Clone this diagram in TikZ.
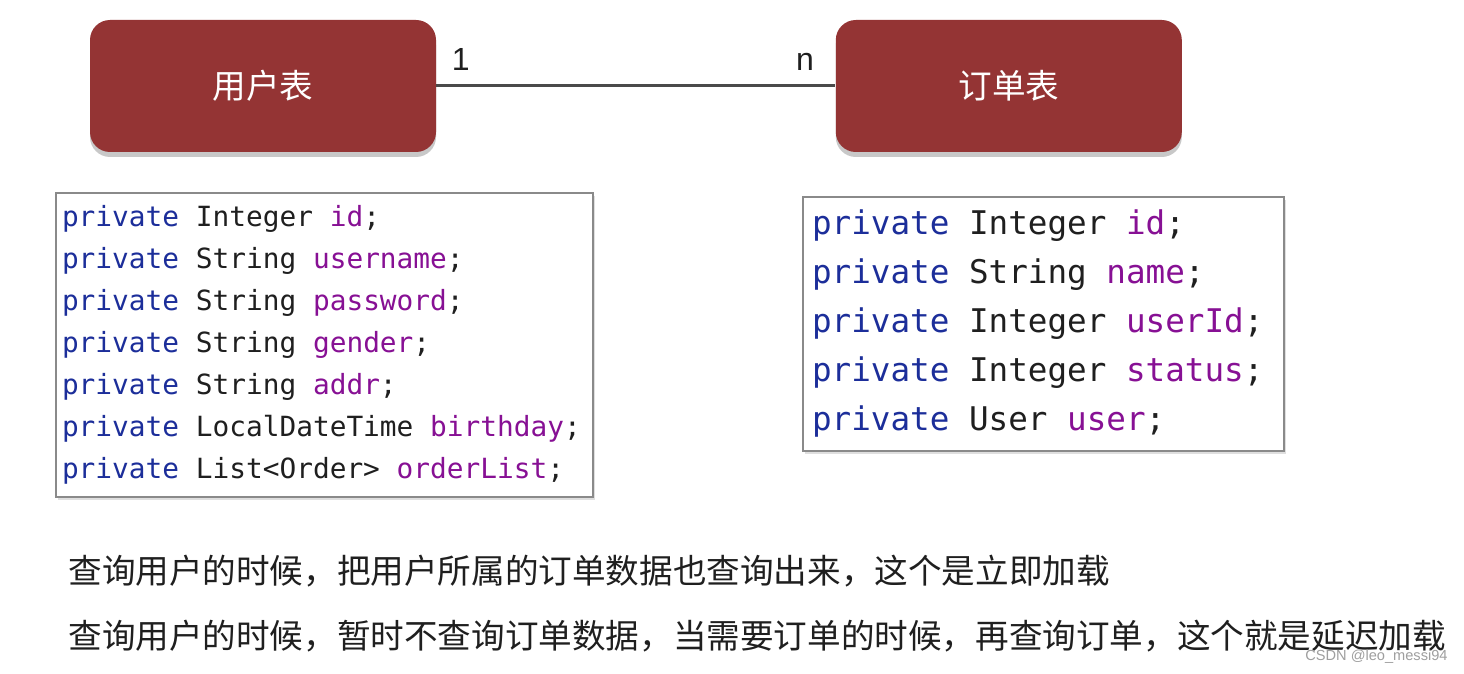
\documentclass[tikz,border=0pt]{standalone}
\usepackage{fontspec}
\setmainfont{Liberation Sans}
\newfontfamily\cjk{Noto Sans CJK SC}
\newfontfamily\codefont{DejaVu Sans Mono}
\usepackage{xcolor}
\usetikzlibrary{positioning,shadows}
\definecolor{ink}{HTML}{1F1F1F}
\definecolor{tblred}{HTML}{943434}
\definecolor{linkgray}{HTML}{4A4A4A}
\definecolor{boxgray}{HTML}{8A8A8A}
\definecolor{kwblue}{HTML}{1C2E9A}
\definecolor{fldpurple}{HTML}{871094}
\newcommand{\kw}[1]{\textcolor{kwblue}{#1}}
\newcommand{\fld}[1]{\textcolor{fldpurple}{#1}}
\tikzset{
  every node/.style={text=ink},
  tbl/.style={fill=tblred,rounded corners=10pt,minimum width=173pt,minimum height=66pt,text=white,
    font=\cjk\fontsize{16.8}{20}\selectfont,
    drop shadow={shadow xshift=0pt,shadow yshift=-2.5pt,opacity=0.3,fill=black!70}},
  codebox/.style={draw=boxgray,line width=0.75pt,fill=white,align=left,
    execute at begin node={\spaceskip=0.602em\relax},
    drop shadow={shadow xshift=1pt,shadow yshift=-1.5pt,opacity=0.25}},
  relline/.style={draw=linkgray,line width=1.5pt},
  cardlbl/.style={font=\fontsize{16}{19}\selectfont,inner sep=0pt},
  note/.style={font=\cjk\fontsize{16.8}{20}\selectfont,inner sep=0pt,anchor=west},
  wmark/.style={font=\fontsize{7.3}{9}\selectfont,text=gray!75,inner sep=0pt,anchor=east}
}
\begin{document}
\begin{tikzpicture}[x=0.5pt,y=-0.5pt]
  \useasboundingbox[fill=white] (0,0) rectangle (1464,674);

  \node[tbl] (userTbl) at (263,86) {用户表};
  \node[tbl,right=199.5pt of userTbl] (orderTbl) {订单表};

  \draw[relline] (userTbl.east) --
    node[cardlbl,pos=0,anchor=south west,xshift=7pt,yshift=7pt] (oneLbl) {1}
    node[cardlbl,pos=1,anchor=south east,xshift=-10pt,yshift=7pt] (manyLbl) {n}
    (orderTbl.west);

  \node[codebox,minimum width=268.5pt,minimum height=152pt,text width=262.5pt,inner xsep=3pt,
    font=\codefont\fontsize{13.9}{21}\selectfont] (userCode) at (324.5,345)
    {\kw{private} Integer \fld{id};\\
     \kw{private} String \fld{username};\\
     \kw{private} String \fld{password};\\
     \kw{private} String \fld{gender};\\
     \kw{private} String \fld{addr};\\
     \kw{private} LocalDateTime \fld{birthday};\\
     \kw{private} List<Order> \fld{orderList};};

  \node[codebox,minimum width=240.5pt,minimum height=127pt,text width=231.5pt,inner xsep=4.5pt,
    font=\codefont\fontsize{16.3}{24.5}\selectfont] (orderCode) at (1043.5,324)
    {\kw{private} Integer \fld{id};\\
     \kw{private} String \fld{name};\\
     \kw{private} Integer \fld{userId};\\
     \kw{private} Integer \fld{status};\\
     \kw{private} User \fld{user};};

  \node[note] (eagerNote) at (68,571) {查询用户的时候，把用户所属的订单数据也查询出来，这个是立即加载};
  \node[note] (lazyNote) at (68,636) {查询用户的时候，暂时不查询订单数据，当需要订单的时候，再查询订单，这个就是延迟加载};

  \node[wmark] (csdnMark) at (1448,657) {CSDN @leo\_messi94};
\end{tikzpicture}
\end{document}
